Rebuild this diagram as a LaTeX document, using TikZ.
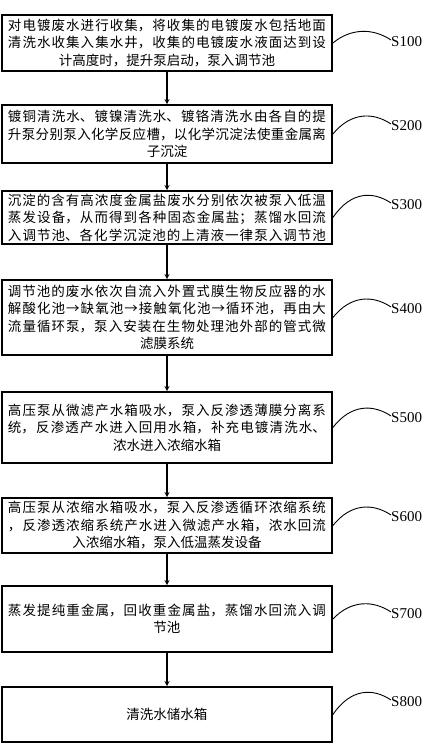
\documentclass[tikz,border=0pt]{standalone}
\usepackage{fontspec}
\setmainfont{Liberation Serif}
\newfontfamily\cjk{Noto Sans CJK SC}
\usetikzlibrary{calc,arrows.meta}
\XeTeXlinebreaklocale "zh"
\XeTeXlinebreakskip=0pt plus 2pt
\newcommand\jb[2]{{\parindent=0pt\leftskip=0pt\rightskip=0pt\parfillskip=0pt #1\par}{\parindent=0pt\centering #2\par}}
\tikzset{
  stepbox/.style={draw, line width=1.8pt, minimum width=330pt, text width=318pt,
    inner xsep=6pt, inner ysep=2pt, font=\cjk\fontsize{13.5}{17.5}\selectfont},
  steplab/.style={anchor=west, inner sep=0pt, font=\fontsize{15}{15}\selectfont},
  arr/.style={line width=1.6pt, -{Stealth[length=5pt,width=5pt]}},
  lead/.style={line width=0.9pt},
}
\begin{document}
\begin{tikzpicture}[x=1pt,y=-1pt]
\useasboundingbox (0,0) rectangle (443,744);
\node[stepbox, minimum height=56pt] (b1) at (167,43) {\jb{对电镀废水进行收集，将收集的电镀废水包括地面\linebreak 清洗水收集入集水井，收集的电镀废水液面达到设}{计高度时，提升泵启动，泵入调节池}};
\node[stepbox, minimum height=58pt] (b2) at (167,134) {\jb{镀铜清洗水、镀镍清洗水、镀铬清洗水由各自的提\linebreak 升泵分别泵入化学反应槽，以化学沉淀法使重金属离}{子沉淀}};
\node[stepbox, minimum height=53pt] (b3) at (167,217.5) {\jb{沉淀的含有高浓度金属盐废水分别依次被泵入低温\linebreak 蒸发设备，从而得到各种固态金属盐；蒸馏水回流\linebreak 入调节池、各化学沉淀池的上清液一律泵入调节池}{}};
\node[stepbox, minimum height=75pt] (b4) at (167,317.5) {\jb{调节池的废水依次自流入外置式膜生物反应器的水\linebreak 解酸化池→缺氧池→接触氧化池→循环池，再由大\linebreak 流量循环泵，泵入安装在生物处理池外部的管式微}{滤膜系统}};
\node[stepbox, minimum height=71pt] (b5) at (167,427.5) {\jb{高压泵从微滤产水箱吸水，泵入反渗透薄膜分离系\linebreak 统，反渗透产水进入回用水箱，补充电镀清洗水、}{浓水进入浓缩水箱}};
\node[stepbox, minimum height=55pt] (b6) at (167,525.5) {\jb{高压泵从浓缩水箱吸水，泵入反渗透循环浓缩系统\linebreak ，反渗透浓缩系统产水进入微滤产水箱，浓水回流}{入浓缩水箱，泵入低温蒸发设备}};
\node[stepbox, minimum height=66pt] (b7) at (167,619) {\jb{蒸发提纯重金属，回收重金属盐，蒸馏水回流入调}{节池}};
\node[stepbox, minimum height=55pt] (b8) at (167,714.5) {\parindent=0pt\centering 清洗水储水箱\par};

\node[steplab] (l1) at (391,42) {S100};
\node[steplab] (l2) at (391,126) {S200};
\node[steplab] (l3) at (391,205) {S300};
\node[steplab] (l4) at (391,309) {S400};
\node[steplab] (l5) at (391,418) {S500};
\node[steplab] (l6) at (391,517) {S600};
\node[steplab] (l7) at (391,614) {S700};
\node[steplab] (l8) at (391,702) {S800};

\foreach \i/\j in {1/2,2/3,3/4,4/5,5/6,6/7,7/8}
  \draw[arr] (b\i.south) -- (b\j.north);
\foreach \i in {1,...,8}
  \draw[lead] (b\i.east) .. controls ($(l\i.west)+(-40,-14)$) and ($(l\i.west)+(-18,-14)$) .. ($(l\i.west)+(0,-2)$);
\end{tikzpicture}
\end{document}
